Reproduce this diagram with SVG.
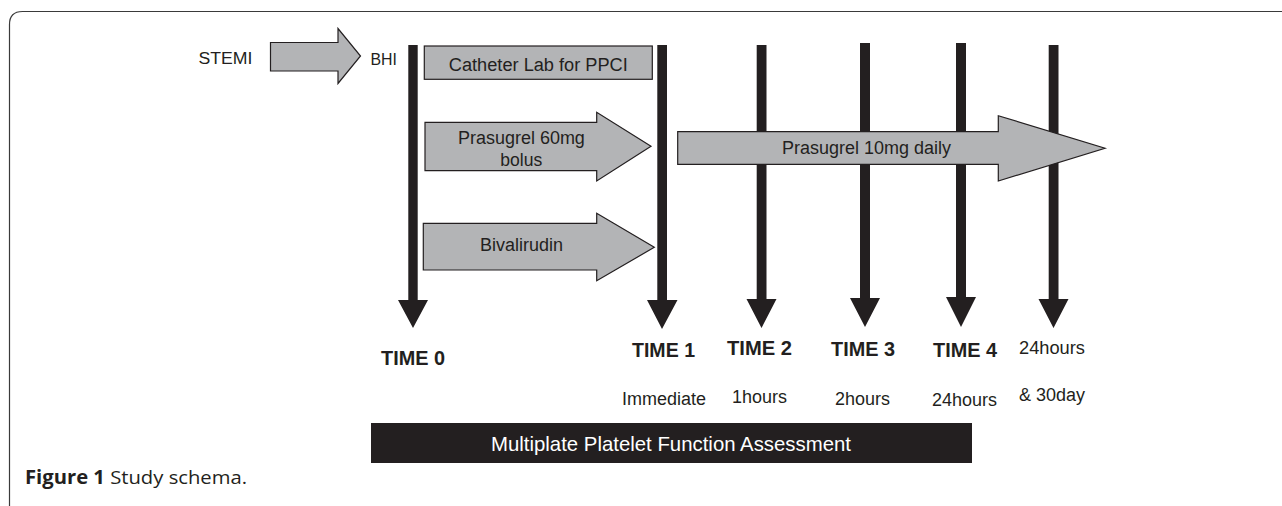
<svg xmlns="http://www.w3.org/2000/svg" width="1282" height="506" viewBox="0 0 1282 506">
<style>
.t{font-family:"Liberation Sans",Arial,Helvetica,sans-serif;fill:#231f20}
.lbl{font-size:18px}
.tm{font-size:19.5px;font-weight:bold}
.ga{fill:#b3b4b6;stroke:#231f20;stroke-width:1.2;stroke-linejoin:miter}
.va{fill:#231f20}
.cap{font-family:"Open Sans","Noto Sans",sans-serif;font-size:19px;fill:#231f20}
</style>
<rect width="1282" height="506" fill="#ffffff"/>
<path d="M9.5,506 V24.5 Q9.5,11.5 22.5,11.5 H1282" fill="none" stroke="#3a3a3a" stroke-width="1.2"/>

<g id="connectors">
  <polygon id="arrow-t0" class="va" points="408.3,45 417.7,45 417.7,300 428,300 413,328 398,300 408.3,300"/>
  <polygon id="arrow-t1" class="va" points="657.3,45 667,45 667,300 677.5,300 662,329 647,300 657.3,300"/>
  <polygon id="arrow-t2" class="va" points="756.7,45 766.5,45 766.5,299 776.5,299 761.5,328 746.5,299 756.7,299"/>
  <polygon id="arrow-t3" class="va" points="860,43 870,43 870,298 880,298 865,327 850,298 860,298"/>
  <polygon id="arrow-t4" class="va" points="956,43 966,43 966,297 976,297 961,327 946,297 956,297"/>
  <polygon id="arrow-t5" class="va" points="1048.7,45 1058.5,45 1058.5,299 1068.5,299 1053.5,328 1038.5,299 1048.7,299"/>
</g>

<g id="stemi">
  <text class="t" x="198.5" y="63.5" font-size="16.3" textLength="54" lengthAdjust="spacingAndGlyphs">STEMI</text>
  <polygon class="ga" points="270.5,42.5 338,42.5 338,28.5 360.5,56 338,83.5 338,71 270.5,71"/>
</g>
<g id="bhi">
  <text class="t" x="370.5" y="65" font-size="16.3" textLength="26.5" lengthAdjust="spacingAndGlyphs">BHI</text>
</g>

<g id="catheter-lab">
  <rect class="ga" x="424.3" y="46" width="228" height="33.3" stroke-width="1.6"/>
  <text class="t lbl" x="538.3" y="71" text-anchor="middle" textLength="179" lengthAdjust="spacingAndGlyphs">Catheter Lab for PPCI</text>
</g>

<g id="prasugrel-60">
  <polygon class="ga" points="425,122.3 596.7,122.3 596.7,112.3 651,146.3 596.7,181 596.7,170.7 425,170.7"/>
  <text class="t lbl" x="521.4" y="144" text-anchor="middle" textLength="127" lengthAdjust="spacingAndGlyphs">Prasugrel 60mg</text>
  <text class="t lbl" x="521.2" y="165.7" text-anchor="middle" textLength="42" lengthAdjust="spacingAndGlyphs">bolus</text>
</g>

<g id="bivalirudin">
  <polygon class="ga" points="423.3,223.3 596.7,223.3 596.7,213.3 654.3,247.3 596.7,280.7 596.7,270 423.3,270"/>
  <text class="t lbl" x="521.5" y="251" text-anchor="middle" textLength="83" lengthAdjust="spacingAndGlyphs">Bivalirudin</text>
</g>

<g id="prasugrel-10">
  <polygon class="ga" points="677.7,131.7 998.3,131.7 998.3,115.7 1105,148.3 998.3,181 998.3,164.3 677.7,164.3"/>
  <text class="t lbl" x="866.5" y="154" text-anchor="middle" textLength="169" lengthAdjust="spacingAndGlyphs">Prasugrel 10mg daily</text>
</g>

<g id="time0"><text class="t tm" x="413" y="365" text-anchor="middle" textLength="64" lengthAdjust="spacingAndGlyphs">TIME 0</text></g>
<g id="time1">
  <text class="t tm" x="663.5" y="357" text-anchor="middle" textLength="63" lengthAdjust="spacingAndGlyphs">TIME 1</text>
  <text class="t lbl" x="664" y="405" text-anchor="middle" textLength="84" lengthAdjust="spacingAndGlyphs">Immediate</text>
</g>
<g id="time2">
  <text class="t tm" x="759.5" y="355" text-anchor="middle" textLength="65" lengthAdjust="spacingAndGlyphs">TIME 2</text>
  <text class="t lbl" x="759.5" y="403" text-anchor="middle" textLength="55" lengthAdjust="spacingAndGlyphs">1hours</text>
</g>
<g id="time3">
  <text class="t tm" x="863" y="356" text-anchor="middle" textLength="64" lengthAdjust="spacingAndGlyphs">TIME 3</text>
  <text class="t lbl" x="862.5" y="405" text-anchor="middle" textLength="55" lengthAdjust="spacingAndGlyphs">2hours</text>
</g>
<g id="time4">
  <text class="t tm" x="965" y="357" text-anchor="middle" textLength="64" lengthAdjust="spacingAndGlyphs">TIME 4</text>
  <text class="t lbl" x="964.5" y="406" text-anchor="middle" textLength="65" lengthAdjust="spacingAndGlyphs">24hours</text>
</g>
<g id="time5">
  <text class="t lbl" x="1052" y="354" text-anchor="middle" textLength="66" lengthAdjust="spacingAndGlyphs">24hours</text>
  <text class="t lbl" x="1052" y="401" text-anchor="middle" textLength="66" lengthAdjust="spacingAndGlyphs">&amp; 30day</text>
</g>

<g id="multiplate">
  <rect x="371" y="423" width="601" height="40" fill="#231f20"/>
  <text class="t" x="671" y="451" font-size="20.3" fill="#ffffff" style="fill:#ffffff" text-anchor="middle" textLength="360" lengthAdjust="spacingAndGlyphs">Multiplate Platelet Function Assessment</text>
</g>

<g id="caption">
  <text class="cap" x="25" y="484" textLength="222" lengthAdjust="spacingAndGlyphs"><tspan font-weight="bold">Figure 1</tspan> Study schema.</text>
</g>
</svg>
